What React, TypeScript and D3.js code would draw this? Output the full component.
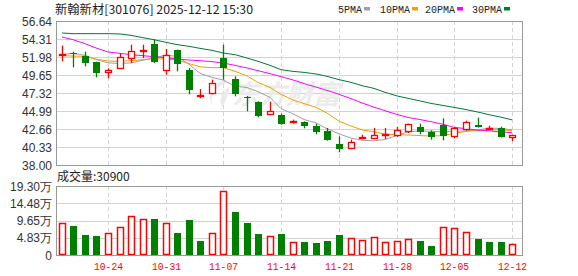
import React from "react";
import * as d3 from "d3";

const dates = [
  "10-20","10-21","10-22","10-23","10-24","10-27","10-28","10-29","10-30","10-31",
  "11-03","11-04","11-05","11-06","11-07","11-10","11-11","11-12","11-13","11-14",
  "11-17","11-18","11-19","11-20","11-21","11-24","11-25","11-26","11-27","11-28",
  "12-01","12-02","12-03","12-04","12-05","12-08","12-09","12-10","12-11","12-12",
];
const tickDates = ["10-24","10-31","11-07","11-14","11-21","11-28","12-05","12-12"];

const openP = [52.07,52.50,52.15,51.38,49.91,50.43,51.72,52.85,53.71,50.17,52.93,50.34,46.89,47.19,51.89,49.13,46.85,46.20,44.47,44.47,43.39,43.61,43.00,42.44,40.76,40.07,41.37,41.37,41.71,41.75,42.27,42.92,42.23,43.18,41.62,42.53,43.22,42.66,42.83,41.50];
const highP = [53.45,52.67,52.67,51.38,50.51,52.50,53.58,53.58,54.22,53.02,52.95,50.56,47.84,49.05,53.58,49.48,46.93,46.25,46.20,44.65,43.87,43.65,43.35,42.79,41.71,41.28,41.93,42.79,42.79,42.92,43.35,43.35,42.49,44.04,42.92,43.74,44.13,43.09,42.96,41.90];
const lowP = [51.42,50.64,50.77,49.35,49.22,50.43,51.20,51.85,51.20,49.69,50.12,47.15,46.63,47.15,49.05,46.89,44.95,44.17,44.45,43.22,43.35,42.75,41.97,41.15,39.64,40.05,41.33,41.35,41.37,41.62,42.14,41.97,41.28,41.19,41.45,42.44,42.85,42.57,41.55,41.11];
const closeP = [52.41,52.38,51.16,49.87,50.30,51.98,52.76,52.90,51.29,52.24,51.07,47.66,47.06,48.66,50.56,47.15,46.68,44.39,44.99,43.31,43.74,43.00,42.23,41.19,40.03,40.94,41.62,41.88,42.06,42.57,43.31,42.23,41.62,41.80,42.83,43.57,42.88,42.83,41.58,41.88];
const volumeWan = [8.87,8.10,5.60,5.30,6.07,7.80,10.80,10.00,10.10,8.87,6.15,9.80,3.90,6.07,17.90,12.00,8.95,5.87,5.30,5.87,3.55,3.60,3.35,3.90,5.60,4.75,4.20,5.00,3.55,3.80,4.47,3.90,2.60,7.80,7.55,6.40,4.47,3.60,3.60,3.09];
const prevCloseBefore = 52.0;

const ma5Early = [52.30,52.45,52.20,51.65];
const ma10Early = [52.15,52.10,52.07,51.70,51.46,51.42,51.50,51.65,51.75];
const ma20Early = [54.57,54.22,53.71,53.15,52.63,52.45,52.28,52.15,52.02,51.89,51.72,51.59,51.50,51.38,51.20,50.90,50.56,50.21,49.82];
const ma30Early = [55.09,55.00,55.00,55.00,55.00,54.96,54.78,54.48,54.22,53.88,53.58,53.36,53.10,52.84,52.50,52.28,51.85,51.42,50.90,50.34,50.12,49.99,49.78,49.48,49.05,48.70,48.27,47.92,47.41];

const priceTicks = ["56.64","54.31","51.98","49.65","47.32","44.99","42.66","40.33","38.00"];
const volTicks = ["0","4.83万","9.65万","14.48万","19.30万"];
const volTickVals = [0, 4.83, 9.65, 14.48, 19.30];

const maNames = ["5PMA","10PMA","20PMA","30PMA"];
const maColors = ["#a0a0a0","#f0a000","#ff00ff","#007a3a"];

function movingAvg(closes: number[], n: number, early: number[]) {
  return closes.map((_, i) => (i < n - 1 ? early[i] : (d3.mean(closes.slice(i - n + 1, i + 1)) as number)));
}

const W = 578, H = 276;
const L = 56, R = 522, PT = 21, PB = 165, VT = 186, VB = 255;
const RED = "#ff0000", GREEN = "#008000";
const GRID = "#d3d3d3", BORDER = "#999999";
const numFont = "'Liberation Sans', Arial, sans-serif";
const monoFont = "'Liberation Mono', 'DejaVu Sans Mono', monospace";
const cjkFont = "'Noto Sans CJK SC', sans-serif";

export default function App() {
  const x = d3.scaleBand<string>().domain(dates).range([L, 518]);
  const cx = (d: string) => Math.round((x(d) as number) + x.bandwidth() / 2);
  const y = d3.scaleLinear().domain([38, 56.64]).range([PB, PT]);
  const yv = d3.scaleLinear().domain([0, 19.30]).range([VB, VT]);

  const mas = [
    movingAvg(closeP, 5, ma5Early),
    movingAvg(closeP, 10, ma10Early),
    movingAvg(closeP, 20, ma20Early),
    movingAvg(closeP, 30, ma30Early),
  ];
  const line = d3.line<number>().x((_, i) => cx(dates[i])).y((v) => y(v));

  const bw = 7;
  const half = 3;

  return (
    <svg width={W} height={H} style={{ position: "absolute", left: 0, top: 0, background: "#fff" }}>
      {/* title */}
      <text x={55} y={14} fontFamily={cjkFont} fontSize={12} fill="#222" textLength={198} lengthAdjust="spacingAndGlyphs">
        新翰新材[301076] 2025-12-12  15:30
      </text>
      {/* legend */}
      {maNames.map((n, i) => {
        const lx = [338, 380, 425, 472][i];
        const tw = n.length * 6;
        return (
          <g key={n}>
            <text x={lx} y={13} fontFamily={monoFont} fontSize={11} fill="#222" textLength={tw} lengthAdjust="spacingAndGlyphs">{n}</text>
            <rect x={lx + tw + 2} y={7} width={6} height={3.5} fill={maColors[i]} />
          </g>
        );
      })}

      {/* price grid */}
      {priceTicks.map((t) => (
        <g key={t}>
          <line x1={L} x2={R} y1={Math.round(y(+t)) + 0.5} y2={Math.round(y(+t)) + 0.5} stroke={GRID} />
          <text x={52} y={y(+t) + 4.5} textAnchor="end" fontFamily={numFont} fontSize={12} fill="#333">{t}</text>
        </g>
      ))}
      {tickDates.map((d) => (
        <g key={d}>
          <line x1={cx(d) + 0.5} x2={cx(d) + 0.5} y1={PT} y2={PB} stroke={GRID} strokeDasharray="4,3" />
          <line x1={cx(d) + 0.5} x2={cx(d) + 0.5} y1={VT} y2={VB} stroke={GRID} strokeDasharray="4,3" />
          <text x={cx(d) + 0.5} y={270} textAnchor="middle" fontFamily={monoFont} fontSize={11} fill={RED} textLength={29} lengthAdjust="spacingAndGlyphs">{d}</text>
        </g>
      ))}

      {/* watermark */}
      <g fill="#ebebeb">
        <path d="M226,79 C212,84 206,96 213,106 C209,97 214,88 226,83 Z M230,86 C222,92 218,100 222,107 C226,101 229,94 230,86 Z" />
        <text x={232} y={104} fontFamily={cjkFont} fontSize={27} fontWeight="bold" fontStyle="italic" textLength={108} lengthAdjust="spacingAndGlyphs">东方财富</text>
      </g>

      {/* MA lines */}
      {mas.map((m, i) => (
        <path key={i} d={line(m) as string} fill="none" stroke={maColors[i]} strokeWidth={1} />
      ))}

      {/* candles */}
      {dates.map((d, i) => {
        const c = cx(d) + 0.5;
        const o = openP[i], cl = closeP[i], h = highP[i], l = lowP[i];
        const up = cl >= o;
        const top = Math.round(y(Math.max(o, cl)));
        const bot = Math.round(y(Math.min(o, cl)));
        const bh = Math.max(bot - top, 1);
        if (up) {
          return (
            <g key={d}>
              <line x1={c} x2={c} y1={y(h)} y2={top} stroke={RED} strokeWidth={1.3} />
              <line x1={c} x2={c} y1={top + bh} y2={y(l)} stroke={RED} strokeWidth={1.3} />
              <rect x={c - half} y={top + 0.5} width={bw - 1} height={Math.max(bh - 1, 1)} fill="#fff" stroke={RED} strokeWidth={1.3} />
            </g>
          );
        }
        return (
          <g key={d}>
            <line x1={c} x2={c} y1={y(h)} y2={y(l)} stroke={GREEN} strokeWidth={1.3} />
            <rect x={c - half - 0.5} y={top} width={bw} height={bh} fill={GREEN} />
          </g>
        );
      })}

      {/* price border */}
      <rect x={L + 0.5} y={PT + 0.5} width={R - L} height={PB - PT} fill="none" stroke={BORDER} />

      {/* volume */}
      <text x={57} y={181} fontFamily={cjkFont} fontSize={12} fill="#222">成交量:30900</text>
      {volTickVals.map((v, i) => (
        <g key={v}>
          {i > 0 && i < volTickVals.length - 1 && (
            <line x1={L} x2={R} y1={Math.round(yv(v)) + 0.5} y2={Math.round(yv(v)) + 0.5} stroke={GRID} />
          )}
          <text x={52} y={yv(v) + 4.5} textAnchor="end" fontFamily={numFont} fontSize={12} fill="#333">{volTicks[i]}</text>
        </g>
      ))}
      {dates.map((d, i) => {
        const c = cx(d) + 0.5;
        const prev = i === 0 ? prevCloseBefore : closeP[i - 1];
        const up = closeP[i] >= prev;
        const top = Math.round(yv(volumeWan[i]));
        const hgt = VB - top;
        return up ? (
          <rect key={d} x={c - half} y={top + 0.5} width={bw - 1} height={hgt - 1} fill="#fff" stroke={RED} strokeWidth={1.5} />
        ) : (
          <rect key={d} x={c - half - 0.5} y={top} width={bw} height={hgt} fill={GREEN} />
        );
      })}
      <rect x={L + 0.5} y={VT + 0.5} width={R - L} height={VB - VT} fill="none" stroke={BORDER} />
    </svg>
  );
}
